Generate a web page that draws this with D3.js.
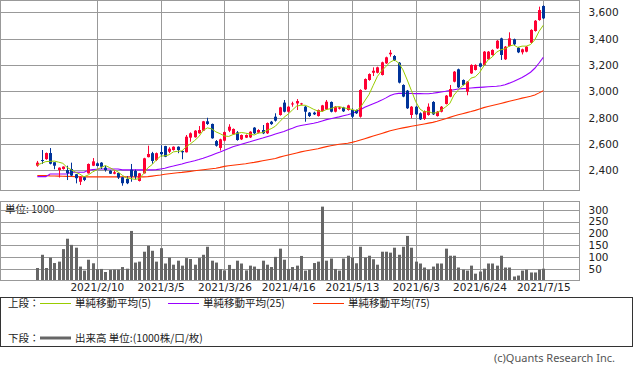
<!DOCTYPE html>
<html>
<head>
<meta charset="utf-8">
<script src="https://cdn.jsdelivr.net/npm/d3@7"></script>
<style>
body { margin: 0; background: #fff; }
text { font-family: "DejaVu Sans", sans-serif; fill: #222; }
.jp { font-family: "Noto Sans CJK JP", sans-serif; }
</style>
</head>
<body>
<div id="chart"></div>
<script>
// trading days shown on the chart
var dates = [
  "2021/1/21","2021/1/22","2021/1/25","2021/1/26","2021/1/27","2021/1/28","2021/1/29",
  "2021/2/1","2021/2/2","2021/2/3","2021/2/4","2021/2/5","2021/2/8","2021/2/9","2021/2/10","2021/2/12",
  "2021/2/15","2021/2/16","2021/2/17","2021/2/18","2021/2/19","2021/2/22","2021/2/24","2021/2/25","2021/2/26",
  "2021/3/1","2021/3/2","2021/3/3","2021/3/4","2021/3/5","2021/3/8","2021/3/9","2021/3/10","2021/3/11","2021/3/12",
  "2021/3/15","2021/3/16","2021/3/17","2021/3/18","2021/3/19","2021/3/22","2021/3/23","2021/3/24","2021/3/25","2021/3/26",
  "2021/3/29","2021/3/30","2021/3/31","2021/4/1","2021/4/2","2021/4/5","2021/4/6","2021/4/7","2021/4/8","2021/4/9",
  "2021/4/12","2021/4/13","2021/4/14","2021/4/15","2021/4/16","2021/4/19","2021/4/20","2021/4/21","2021/4/22","2021/4/23",
  "2021/4/26","2021/4/27","2021/4/28","2021/4/30","2021/5/6","2021/5/7","2021/5/10","2021/5/11","2021/5/12","2021/5/13",
  "2021/5/14","2021/5/17","2021/5/18","2021/5/19","2021/5/20","2021/5/21","2021/5/24","2021/5/25","2021/5/26","2021/5/27",
  "2021/5/28","2021/5/31","2021/6/1","2021/6/2","2021/6/3","2021/6/4","2021/6/7","2021/6/8","2021/6/9","2021/6/10",
  "2021/6/11","2021/6/14","2021/6/15","2021/6/16","2021/6/17","2021/6/18","2021/6/21","2021/6/22","2021/6/23","2021/6/24",
  "2021/6/25","2021/6/28","2021/6/29","2021/6/30","2021/7/1","2021/7/2","2021/7/5","2021/7/6","2021/7/7","2021/7/8",
  "2021/7/9","2021/7/12","2021/7/13","2021/7/14","2021/7/15"
];

var opens = [
  2435,2478,2485,2531,2461,2402,2410,2402,2410,2370,
  2313,2347,2377,2435,2453,2458,2420,2397,2374,2380,
  2347,2334,2405,2395,2319,2377,2500,2530,2478,2539,
  2584,2541,2554,2579,2547,2537,2648,2651,2681,2701,
  2772,2752,2622,2570,2625,2701,2673,2688,2635,2648,
  2650,2724,2686,2706,2681,2769,2807,2820,2914,2845,
  2900,2908,2901,2883,2838,2838,2812,2850,2863,2919,
  2845,2868,2878,2858,2858,2858,2807,3015,3086,3141,
  3141,3124,3212,3281,3268,3217,3048,3005,2820,2883,
  2833,2790,2820,2919,2812,2845,2904,2959,3073,3167,
  3086,2997,3136,3162,3212,3200,3243,3276,3326,3402,
  3243,3344,3395,3331,3296,3301,3369,3458,3541,3648
];
var highs = [
  2471,2554,2535,2569,2461,2422,2430,2435,2458,2372,
  2355,2355,2452,2493,2460,2462,2435,2400,2400,2383,
  2350,2355,2448,2405,2380,2495,2587,2540,2535,2590,
  2586,2575,2582,2582,2550,2668,2688,2705,2736,2775,
  2799,2755,2630,2640,2695,2750,2718,2698,2672,2672,
  2697,2728,2712,2744,2763,2775,2833,2882,2934,2888,
  2921,2941,2912,2888,2842,2845,2862,2897,2934,2923,
  2888,2882,2882,2898,2870,2862,3015,3098,3136,3182,
  3187,3225,3263,3314,3275,3222,3053,3010,2888,2888,
  2840,2855,2908,2925,2850,2888,2972,3048,3154,3172,
  3090,3078,3205,3205,3217,3306,3306,3319,3389,3407,
  3344,3448,3400,3336,3324,3344,3471,3541,3643,3653
];
var lows = [
  2427,2448,2480,2445,2408,2345,2405,2326,2355,2301,
  2288,2318,2375,2432,2430,2410,2390,2372,2370,2334,
  2283,2295,2313,2330,2315,2375,2498,2450,2470,2503,
  2500,2530,2550,2530,2484,2535,2617,2648,2678,2698,
  2745,2640,2580,2550,2620,2690,2668,2625,2630,2645,
  2645,2675,2680,2675,2676,2745,2770,2815,2840,2840,
  2883,2858,2896,2769,2805,2820,2808,2845,2858,2840,
  2840,2862,2843,2853,2795,2828,2800,3010,3080,3116,
  3136,3120,3208,3263,3230,3060,2955,2866,2795,2820,
  2782,2782,2815,2820,2808,2840,2900,2955,3068,3025,
  3043,2970,3132,3158,3182,3195,3238,3271,3321,3238,
  3238,3340,3352,3290,3280,3296,3364,3453,3536,3549
];
var closes = [
  2458,2476,2531,2450,2435,2420,2428,2378,2360,2340,
  2351,2327,2448,2468,2433,2427,2402,2374,2385,2345,
  2302,2302,2352,2352,2377,2491,2524,2471,2530,2522,
  2503,2564,2579,2554,2537,2655,2681,2701,2706,2772,
  2752,2643,2587,2635,2690,2731,2714,2630,2668,2668,
  2693,2681,2706,2681,2759,2751,2777,2878,2845,2883,
  2908,2926,2908,2845,2812,2825,2858,2893,2921,2845,
  2883,2878,2848,2893,2807,2833,3010,3093,3131,3156,
  3182,3220,3258,3293,3238,3066,2960,2871,2883,2825,
  2787,2850,2883,2825,2845,2883,2967,3017,3149,3030,
  3048,3073,3200,3200,3187,3301,3301,3314,3384,3276,
  3339,3402,3357,3296,3319,3339,3466,3536,3617,3554
];

// moving averages
var ma5 = [
  2440,2453,2466,2468,2470,2462,2453,2422,2404,2385,
  2371,2351,2365,2387,2405,2421,2436,2421,2404,2387,
  2362,2342,2337,2331,2337,2375,2419,2443,2479,2508,
  2510,2518,2540,2544,2547,2578,2601,2626,2656,2703,
  2722,2715,2692,2678,2661,2657,2671,2680,2687,2682,
  2675,2668,2683,2686,2704,2716,2735,2769,2802,2827,
  2858,2888,2894,2894,2880,2863,2850,2847,2862,2868,
  2880,2884,2875,2869,2862,2852,2878,2927,2975,3045,
  3114,3156,3189,3222,3238,3215,3163,3086,3004,2921,
  2865,2843,2846,2834,2838,2857,2881,2907,2972,3009,
  3042,3063,3100,3110,3142,3192,3238,3261,3297,3315,
  3323,3343,3352,3334,3343,3343,3355,3391,3455,3502
];
var ma25 = [
  2352,2352,2352,2372,2372,2372,2372,2372,2385,2385,
  2385,2385,2400,2405,2408,2410,2410,2410,2410,2410,
  2403,2403,2403,2403,2403,2403,2403,2403,2405,2410,
  2415,2425,2432,2440,2448,2458,2465,2473,2482,2492,
  2503,2515,2527,2539,2552,2565,2579,2588,2598,2608,
  2617,2627,2636,2645,2655,2665,2675,2685,2695,2708,
  2720,2733,2740,2746,2752,2757,2765,2775,2785,2792,
  2799,2806,2814,2822,2832,2845,2860,2878,2893,2906,
  2918,2933,2950,2968,2980,2984,2984,2984,2983,2982,
  2982,2981,2981,2985,2990,2995,3000,3006,3012,3017,
  3020,3022,3025,3028,3030,3032,3034,3036,3038,3042,
  3050,3062,3075,3090,3105,3124,3145,3175,3215,3258
];
var ma75 = [
  2360,2360,2360,2358,2357,2356,2355,2354,2353,2352,
  2351,2350,2350,2350,2350,2350,2350,2350,2350,2350,
  2350,2350,2350,2350,2350,2350,2352,2356,2360,2364,
  2370,2374,2378,2381,2384,2388,2392,2396,2400,2404,
  2408,2412,2416,2422,2430,2434,2438,2442,2446,2450,
  2456,2460,2466,2472,2478,2484,2490,2500,2508,2516,
  2524,2532,2540,2546,2552,2558,2564,2572,2580,2586,
  2592,2598,2602,2606,2612,2620,2630,2640,2650,2660,
  2670,2680,2690,2700,2708,2715,2722,2728,2734,2740,
  2746,2752,2758,2764,2772,2782,2792,2802,2812,2822,
  2830,2838,2846,2855,2866,2876,2884,2892,2900,2908,
  2916,2924,2932,2940,2948,2955,2962,2972,2988,3005
];

// volume, unit 1000
var volumes = [
  53,109,53,97,74,80,133,177,151,139,
  59,42,88,73,48,49,36,45,46,46,
  57,50,210,76,80,122,147,126,80,137,
  72,97,67,84,63,95,91,67,95,109,
  143,84,76,48,43,66,49,84,72,43,
  63,59,49,84,67,57,100,135,88,49,
  57,63,104,42,46,74,80,313,84,93,
  49,42,93,105,97,73,143,97,105,90,
  67,122,122,118,139,109,143,189,139,80,
  72,55,46,59,72,72,135,105,105,55,
  46,42,63,29,38,50,72,72,63,105,
  55,55,17,21,42,46,34,34,46,50
];

var tickDates = ["2021/2/10","2021/3/5","2021/3/26","2021/4/16","2021/5/13","2021/6/3","2021/6/24","2021/7/15"];
var priceTicks = [2400, 2600, 2800, 3000, 3200, 3400, 3600];
var volTicks = [50, 100, 150, 200, 250, 300];

var width = 633, height = 372;
var plotRight = 579.5;
var upColor = "#ff0033", downColor = "#003399", gridColor = "#999";

var svg = d3.select("#chart").append("svg")
  .attr("width", width)
  .attr("height", height);

var x = d3.scalePoint().domain(dates).range([37.3, 543.3]);
var y = d3.scaleLinear().domain([2400, 3600]).range([170.3, 12.3]);
var yv = d3.scaleLinear().domain([0, 300]).range([280.5, 209.7]);

function px(v) { return Math.round(v) + 0.5; }

var candles = dates.map(function(d, i) {
  return {date: d, o: opens[i], h: highs[i], l: lows[i], c: closes[i], v: volumes[i]};
});

//////////////////////////// upper panel ////////////////////////////
var upper = svg.append("g");

upper.selectAll(".hgrid").data(priceTicks).enter().append("line")
  .attr("x1", 0.5).attr("x2", plotRight)
  .attr("y1", function(d) { return px(y(d)); })
  .attr("y2", function(d) { return px(y(d)); })
  .style("stroke", gridColor);

upper.selectAll(".vgrid").data(tickDates).enter().append("line")
  .attr("x1", function(d) { return px(x(d)); })
  .attr("x2", function(d) { return px(x(d)); })
  .attr("y1", 0.5).attr("y2", 190.5)
  .style("stroke", gridColor);

upper.append("rect")
  .attr("x", 0.5).attr("y", 0.5)
  .attr("width", plotRight - 0.5).attr("height", 190)
  .style("fill", "none").style("stroke", gridColor);

function maLine(arr) {
  return d3.line()
    .x(function(d, i) { return x(dates[i]); })
    .y(function(d) { return y(d); })(arr);
}

upper.append("path").attr("d", maLine(ma75))
  .style("fill", "none").style("stroke", "#ff3300").style("stroke-width", 1.1);
upper.append("path").attr("d", maLine(ma25))
  .style("fill", "none").style("stroke", "#9900ff").style("stroke-width", 1.1);

var candle = upper.selectAll(".candle").data(candles).enter().append("g");

candle.append("line")
  .attr("x1", function(d) { return px(x(d.date)); })
  .attr("x2", function(d) { return px(x(d.date)); })
  .attr("y1", function(d) { return y(d.h); })
  .attr("y2", function(d) { return y(d.l); })
  .style("stroke", function(d) { return d.c >= d.o ? upColor : downColor; });

candle.append("rect")
  .attr("x", function(d) { return Math.round(x(d.date)) - 1; })
  .attr("width", 3)
  .attr("y", function(d) { return y(Math.max(d.o, d.c)); })
  .attr("height", function(d) { return Math.max(1, Math.abs(y(d.o) - y(d.c))); })
  .style("fill", function(d) { return d.c >= d.o ? upColor : downColor; });

upper.append("path").attr("d", maLine(ma5))
  .style("fill", "none").style("stroke", "#99cc00").style("stroke-width", 1);

var yAxis = upper.append("g")
  .attr("transform", "translate(" + plotRight + ",0)")
  .call(d3.axisRight(y).tickValues(priceTicks).tickFormat(d3.format(",")).tickSize(0).tickPadding(9));
yAxis.select(".domain").remove();
yAxis.selectAll("text").style("font-size", "10.5px").style("font-family", "DejaVu Sans").style("fill", "#222");

//////////////////////////// volume panel ////////////////////////////
var lower = svg.append("g");

lower.append("text")
  .attr("class", "jp")
  .attr("x", 5).attr("y", 213)
  .style("font-size", "10.5px")
  .text("単位: 1000");

lower.selectAll(".vhgrid").data(volTicks).enter().append("line")
  .attr("x1", 0.5).attr("x2", plotRight)
  .attr("y1", function(d) { return px(yv(d)); })
  .attr("y2", function(d) { return px(yv(d)); })
  .style("stroke", gridColor);

lower.selectAll(".vvgrid").data(tickDates).enter().append("line")
  .attr("x1", function(d) { return px(x(d)); })
  .attr("x2", function(d) { return px(x(d)); })
  .attr("y1", 201.5).attr("y2", 280.5)
  .style("stroke", gridColor);

lower.selectAll(".vol").data(candles).enter().append("rect")
  .attr("x", function(d) { return Math.round(x(d.date)) - 1; })
  .attr("width", 3)
  .attr("y", function(d) { return yv(d.v); })
  .attr("height", function(d) { return yv(0) - yv(d.v); })
  .style("fill", "#666");

lower.append("rect")
  .attr("x", 0.5).attr("y", 201.5)
  .attr("width", plotRight - 0.5).attr("height", 79)
  .style("fill", "none").style("stroke", gridColor);

var vAxis = lower.append("g")
  .attr("transform", "translate(" + plotRight + ",0)")
  .call(d3.axisRight(yv).tickValues(volTicks).tickSize(0).tickPadding(9));
vAxis.select(".domain").remove();
vAxis.selectAll("text").style("font-size", "10.5px").style("font-family", "DejaVu Sans").style("fill", "#222");

var xAxis = lower.append("g")
  .attr("transform", "translate(0,281)")
  .call(d3.axisBottom(x).tickValues(tickDates).tickSize(0).tickPadding(3));
xAxis.select(".domain").remove();
xAxis.selectAll("text").style("font-size", "10.5px").style("font-family", "DejaVu Sans").style("fill", "#222");

//////////////////////////// legend ////////////////////////////
var legend = svg.append("g");

legend.append("rect")
  .attr("x", 0.5).attr("y", 297.5)
  .attr("width", 632).attr("height", 49)
  .style("fill", "none").style("stroke", "#333");

legend.append("text").attr("class", "jp")
  .attr("x", 8).attr("y", 307).style("font-size", "10.5px").text("上段：");

var maItems = [
  {x: 40, color: "#99cc00", label: "単純移動平均(5)"},
  {x: 168, color: "#9900ff", label: "単純移動平均(25)"},
  {x: 313, color: "#ff3300", label: "単純移動平均(75)"}
];
maItems.forEach(function(d) {
  legend.append("line")
    .attr("x1", d.x).attr("x2", d.x + 31)
    .attr("y1", 303.5).attr("y2", 303.5)
    .style("stroke", d.color);
  legend.append("text").attr("class", "jp")
    .attr("x", d.x + 35).attr("y", 307)
    .style("font-size", "10.5px")
    .text(d.label);
});

legend.append("text").attr("class", "jp")
  .attr("x", 8).attr("y", 342).style("font-size", "10.5px").text("下段：");
legend.append("line")
  .attr("x1", 40).attr("x2", 71)
  .attr("y1", 338).attr("y2", 338)
  .style("stroke", "#666").style("stroke-width", 3);
legend.append("text").attr("class", "jp")
  .attr("x", 75).attr("y", 342).style("font-size", "10.5px")
  .text("出来高 単位:(1000株/口/枚)");

svg.append("text")
  .attr("x", 615).attr("y", 362)
  .attr("text-anchor", "end")
  .style("font-family", "Noto Sans")
  .style("font-size", "11px")
  .style("fill", "#555")
  .text("(c)Quants Research Inc.");
</script>
</body>
</html>
